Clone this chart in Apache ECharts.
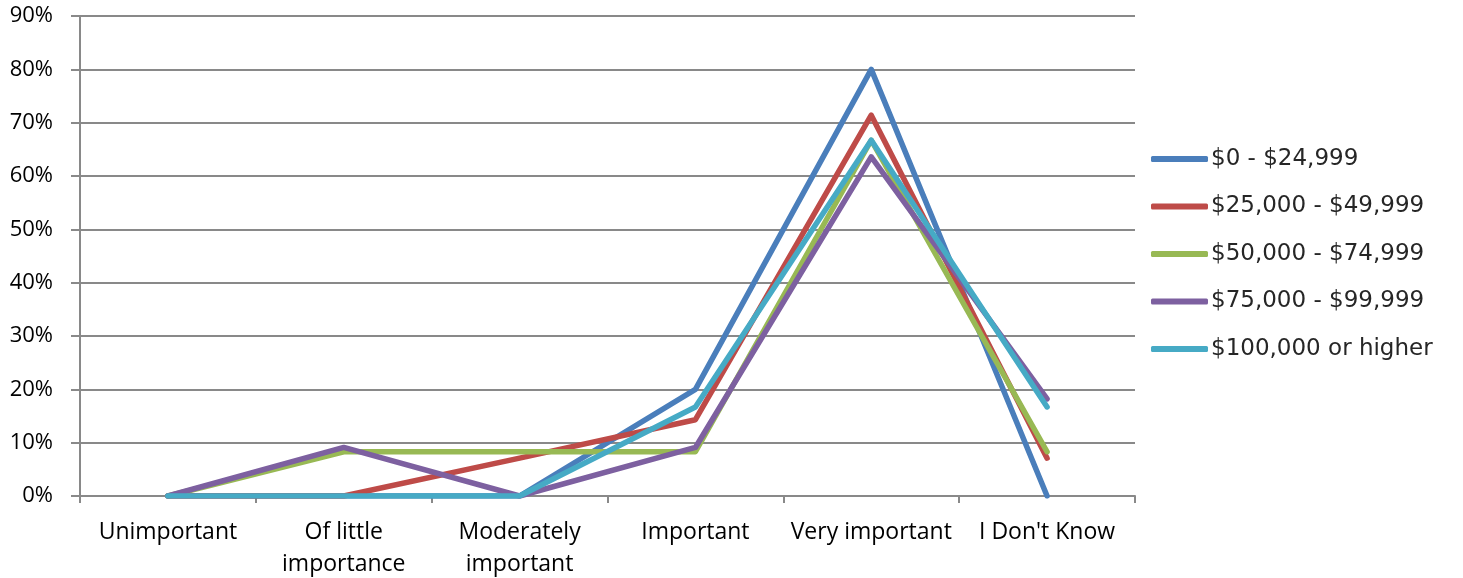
<!DOCTYPE html>
<html>
<head>
<meta charset="utf-8">
<script src="https://cdn.jsdelivr.net/npm/echarts@6/dist/echarts.min.js"></script>
<style>
  html, body { margin: 0; padding: 0; background: #ffffff; overflow: hidden; }
  #chart { width: 1463px; height: 578px; }
</style>
</head>
<body>
<div id="chart"></div>
<script>
// Importance ratings by household income (percent of respondents)
const categories = ['Unimportant', 'Of little\nimportance', 'Moderately\nimportant', 'Important', 'Very important', "I Don't Know"];
const seriesNames = ['$0 - $24,999', '$25,000 - $49,999', '$50,000 - $74,999', '$75,000 - $99,999', '$100,000 or higher'];
const income0to25k   = [0, 0, 0, 20, 80, 0];
const income25to50k  = [0, 0, 7.1, 14.3, 71.4, 7.1];
const income50to75k  = [0, 8.3, 8.3, 8.3, 66.7, 8.3];
const income75to100k = [0, 9.1, 0, 9.1, 63.6, 18.2];
const income100kPlus = [0, 0, 0, 16.7, 66.7, 16.7];
const yTicks = { min: 0, max: 90, step: 10 };

const seriesValues = [income0to25k, income25to50k, income50to75k, income75to100k, income100kPlus];
const colors = ['#4A7EBB', '#BE4B48', '#98B954', '#7D60A0', '#46AAC5'];

const chart = echarts.init(document.getElementById('chart'), null, { renderer: 'canvas' });

const gridGray = '#898989';

chart.setOption({
  animation: false,
  color: colors,
  grid: { left: 80, right: 328, top: 16, bottom: 82, containLabel: false, outerBoundsMode: 'none' },
  legend: {
    orient: 'vertical',
    left: 1146,
    top: 142,
    itemWidth: 57,
    itemHeight: 6,
    itemGap: 23.5,
    icon: 'roundRect',
    textStyle: { fontFamily: 'DejaVu Sans', fontSize: 23, color: '#262626', lineHeight: 24, padding: [0, 0, 0, -2] },
    data: seriesNames
  },
  xAxis: {
    type: 'category',
    data: categories,
    boundaryGap: true,
    axisLine: { lineStyle: { color: gridGray, width: 2 } },
    axisTick: { show: true, length: 7, lineStyle: { color: gridGray, width: 2 } },
    axisLabel: {
      interval: 0,
      margin: 20,
      fontFamily: 'Open Sans',
      fontSize: 23,
      color: '#000000',
      lineHeight: 32
    },
    splitLine: { show: false }
  },
  yAxis: {
    type: 'value',
    min: yTicks.min,
    max: yTicks.max,
    interval: yTicks.step,
    axisLine: { show: true, lineStyle: { color: gridGray, width: 2 } },
    axisTick: { show: true, length: 9, lineStyle: { color: gridGray, width: 2 } },
    axisLabel: {
      margin: 27,
      formatter: '{value}%',
      fontFamily: 'Open Sans',
      fontSize: 22,
      color: '#000000'
    },
    splitLine: { show: true, lineStyle: { color: gridGray, width: 2 } }
  },
  series: seriesNames.map((name, i) => ({
    name: name,
    type: 'line',
    data: seriesValues[i],
    symbol: 'none',
    lineStyle: { width: 5.5, color: colors[i], cap: 'round', join: 'round' },
    itemStyle: { color: colors[i] },
    z: 2 + i
  }))
});
</script>
</body>
</html>
